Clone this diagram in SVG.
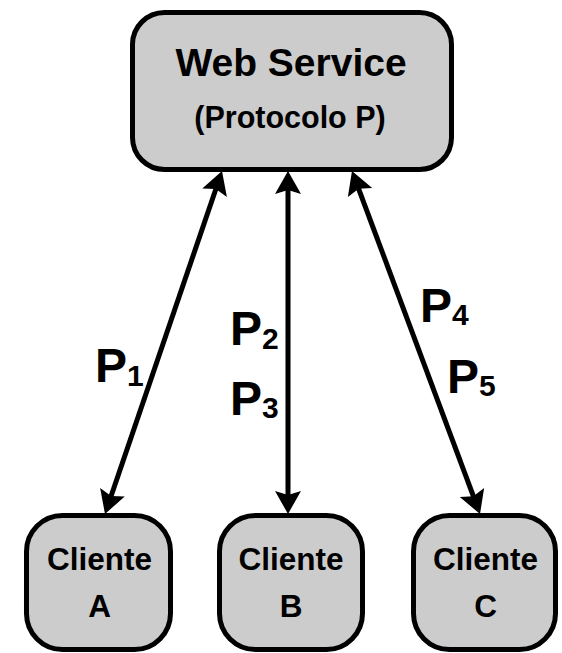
<svg xmlns="http://www.w3.org/2000/svg" width="562" height="653" viewBox="0 0 562 653">
  <style>
    .box { fill: #cccccc; stroke: #000000; stroke-width: 5; }
    .lbl { font-family: "Liberation Sans", Arial, Helvetica, sans-serif; font-weight: bold; fill: #000000; }
    .mid { text-anchor: middle; }
    .edge { stroke: #000000; stroke-width: 5; fill: none; marker-start: url(#head); marker-end: url(#head); }
    .p { font-size: 48px; }
    .sub { font-size: 30px; }
  </style>
  <defs>
    <!-- notched arrowhead; tip sits 15px past the line end -->
    <marker id="head" markerUnits="userSpaceOnUse" viewBox="-10 -15 30 30" refX="0" refY="0"
            markerWidth="30" markerHeight="30" orient="auto-start-reverse" overflow="visible">
      <path d="M15,0 L-8,-13 L-4,0 L-8,13 Z" fill="#000000"/>
    </marker>
  </defs>

  <!-- connectors -->
  <g id="connectors">
    <line class="edge" x1="109.84" y1="499.8" x2="217.16" y2="185.2"/>
    <line class="edge" x1="288" y1="499" x2="288" y2="186"/>
    <line class="edge" x1="474.76" y1="499.95" x2="357.24" y2="185.05"/>
  </g>

  <!-- server -->
  <g id="web-service">
    <rect class="box" x="132.5" y="12.5" width="319" height="157" rx="32" ry="32"/>
    <text class="lbl mid" x="291" y="76" font-size="39">Web Service</text>
    <text class="lbl mid" x="290" y="128" font-size="30.5">(Protocolo P)</text>
  </g>

  <!-- clients -->
  <g id="cliente-a">
    <rect class="box" x="26.5" y="515.5" width="144" height="134" rx="36" ry="36"/>
    <text class="lbl mid" x="99.5" y="570" font-size="31.5">Cliente</text>
    <text class="lbl mid" x="99.5" y="617" font-size="31.5">A</text>
  </g>
  <g id="cliente-b">
    <rect class="box" x="219.5" y="515.5" width="143" height="134" rx="36" ry="36"/>
    <text class="lbl mid" x="291" y="570" font-size="31.5">Cliente</text>
    <text class="lbl mid" x="291" y="617" font-size="31.5">B</text>
  </g>
  <g id="cliente-c">
    <rect class="box" x="413.5" y="515.5" width="142" height="134" rx="36" ry="36"/>
    <text class="lbl mid" x="485.5" y="570" font-size="31.5">Cliente</text>
    <text class="lbl mid" x="485.5" y="617" font-size="31.5">C</text>
  </g>

  <!-- protocol labels -->
  <g id="labels">
    <text class="lbl p" x="95" y="382">P<tspan class="sub" dy="4">1</tspan></text>
    <text class="lbl p" x="230" y="345">P<tspan class="sub" dy="4">2</tspan></text>
    <text class="lbl p" x="230" y="415">P<tspan class="sub" dy="3">3</tspan></text>
    <text class="lbl p" x="420" y="322">P<tspan class="sub" dy="3">4</tspan></text>
    <text class="lbl p" x="447" y="393">P<tspan class="sub" dy="3">5</tspan></text>
  </g>
</svg>
